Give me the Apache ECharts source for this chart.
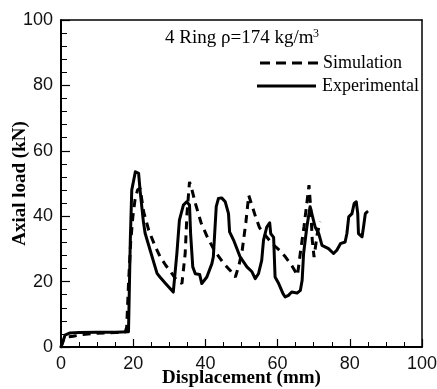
<!DOCTYPE html>
<html>
<head>
<meta charset="utf-8">
<script src="https://cdn.jsdelivr.net/npm/echarts@6/dist/echarts.min.js"></script>
<style>html,body{margin:0;padding:0;background:#fff}#c{width:437px;height:389px}</style>
</head>
<body>
<div id="c"></div>
<script>
var xTicks = [0, 20, 40, 60, 80, 100];
var yTicks = [0, 20, 40, 60, 80, 100];
var expX = [0, 0.5, 1.1, 2.5, 5, 10, 15, 18.7, 19.2, 19.6, 20.6, 21.5, 21.9, 22.8, 23.3, 24.7, 26.6, 27.4, 28.9, 31.1, 31.6, 32.1, 32.8, 33.9, 34.8, 35.6, 35.9, 36.5, 37.2, 38.4, 39.0, 39.5, 40.4, 41.8, 42.2, 43.0, 43.6, 44.5, 45.5, 46.4, 46.7, 47.8, 49.6, 51.5, 52.9, 53.8, 54.7, 55.6, 56.1, 57.0, 57.8, 58.1, 58.9, 59.3, 60.3, 61.5, 62.1, 63.0, 63.9, 65.4, 66.3, 66.8, 67.2, 68.1, 69.0, 69.5, 70.4, 71.4, 72.3, 74.1, 75.5, 76.4, 77.4, 78.7, 79.2, 79.7, 80.6, 81.2, 81.8, 82.2, 82.4, 83.4, 83.8, 84.3, 84.8];
var expY = [0, 1.5, 3.6, 4.3, 4.4, 4.5, 4.5, 4.7, 32.7, 48, 53.6, 53.1, 48, 38.5, 34.8, 29.6, 22.5, 21.4, 19.5, 16.8, 16.5, 28.6, 38.8, 43.4, 44.4, 43.4, 34.7, 24.5, 22.4, 22.2, 19.4, 19.2, 21.4, 25.5, 27.6, 42.9, 45.4, 45.6, 44.4, 40.8, 35.2, 32.7, 27.6, 24.5, 23.0, 20.9, 22.4, 26.5, 32.7, 36.7, 38.0, 34.7, 33.5, 21.4, 19.4, 16.3, 15.3, 15.8, 16.8, 16.5, 17.3, 20.4, 28.6, 36.7, 42.9, 42.3, 36.7, 34.7, 31.1, 30.1, 28.6, 29.6, 31.6, 32.1, 34.7, 39.8, 40.8, 43.9, 44.4, 40.8, 34.7, 33.7, 36.7, 40.8, 41.3];
var simX = [0, 0.6, 1.6, 3.4, 6, 10, 15, 17.8, 18.2, 18.7, 19.3, 19.9, 20.5, 21.2, 21.9, 22.9, 24.3, 26, 27.5, 29, 30.7, 32, 33.5, 34.4, 34.9, 35.6, 36.3, 37.2, 38.8, 40.5, 42.5, 45.1, 46.8, 48.3, 49.3, 50.2, 51.2, 52, 52.5, 53.9, 55, 56.2, 58.5, 60.5, 62.2, 64, 65.5, 66.4, 67.3, 68.1, 68.7, 69.2, 69.6, 70.1, 71, 71.8];
var simY = [0, 2, 3.1, 3.3, 3.8, 4.2, 4.4, 4.6, 6.1, 19.4, 32, 39.8, 45, 48, 48.6, 41.3, 35.7, 31, 27.5, 25, 22.5, 20.5, 19.4, 28.6, 40.8, 50.5, 48, 44, 38, 33.7, 29.5, 25.5, 23.5, 21.4, 25, 29.6, 38, 46.4, 47, 39.8, 36.5, 34.7, 31.6, 29.6, 27.5, 24.8, 21.9, 29.6, 36.7, 44, 49.5, 41.9, 32.7, 27.5, 34.7, 38.3];
var seriesNames = ['Simulation', 'Experimental'];
var xTitle = 'Displacement (mm)';
var yTitle = 'Axial load (kN)';
var annotation = '4 Ring \u03c1=174 kg/m';
var annotationSup = '3';

function zip(a, b) { return a.map(function (v, i) { return [v, b[i]]; }); }

var chart = echarts.init(document.getElementById('c'), null, { renderer: 'canvas' });
var serif = '"Liberation Serif", "Times New Roman", serif';
var sans = '"Liberation Sans", Arial, sans-serif';
var frameAxis = {
  type: 'value', min: 0, max: 100, interval: 20,
  axisLine: { show: true, onZero: false, lineStyle: { color: '#000', width: 1.5 } },
  axisTick: { show: false }, axisLabel: { show: false }, splitLine: { show: false }
};
chart.setOption({
  animation: false,
  backgroundColor: '#fff',
  grid: { left: 61, right: 15, top: 20, bottom: 42, containLabel: false, outerBoundsMode: 'none' },
  xAxis: [{
    type: 'value', min: xTicks[0], max: xTicks[xTicks.length - 1], interval: 20, position: 'bottom',
    name: xTitle, nameLocation: 'middle', nameGap: 22, nameMoveOverlap: false,
    nameTextStyle: { fontFamily: serif, fontWeight: 'bold', fontSize: 19, color: '#000' },
    axisLine: { show: true, onZero: false, lineStyle: { color: '#000', width: 2 } },
    axisTick: { show: true, inside: true, length: 8, lineStyle: { color: '#000', width: 1.2 } },
    minorTick: { show: true, splitNumber: 4, length: 5, lineStyle: { color: '#000', width: 1 } },
    splitLine: { show: false },
    axisLabel: { fontFamily: sans, fontSize: 18, color: '#111', margin: 8, showMaxLabel: true, showMinLabel: true }
  }, Object.assign({ position: 'top' }, frameAxis)],
  yAxis: [{
    type: 'value', min: yTicks[0], max: yTicks[yTicks.length - 1], interval: 20, position: 'left',
    name: yTitle, nameLocation: 'middle', nameGap: 31, nameRotate: 90, nameMoveOverlap: false,
    nameTextStyle: { fontFamily: serif, fontWeight: 'bold', fontSize: 19, color: '#000' },
    axisLine: { show: true, onZero: false, lineStyle: { color: '#000', width: 2 } },
    axisTick: { show: true, inside: true, length: 9, lineStyle: { color: '#000', width: 1.2 } },
    minorTick: { show: true, splitNumber: 5, length: 6, lineStyle: { color: '#000', width: 1 } },
    splitLine: { show: false },
    axisLabel: { fontFamily: sans, fontSize: 18, color: '#111', margin: 8, showMaxLabel: true, showMinLabel: true }
  }, Object.assign({ position: 'right' }, frameAxis)],
  series: [
    { name: seriesNames[0], type: 'line', data: zip(simX, simY), showSymbol: false, symbol: 'none',
      lineStyle: { color: '#000', width: 3, type: [8, 6] }, z: 3 },
    { name: seriesNames[1], type: 'line', data: zip(expX, expY), showSymbol: false, symbol: 'none',
      lineStyle: { color: '#000', width: 3, type: 'solid', join: 'round', cap: 'round' }, z: 4 }
  ],
  graphic: [
    { type: 'text', left: 165, top: 29, style: { text: annotation, font: '19px ' + serif, fill: '#000' } },
    { type: 'text', left: 313, top: 28, style: { text: annotationSup, font: '12px ' + serif, fill: '#000' } },
    { type: 'line', shape: { x1: 260, y1: 63, x2: 322, y2: 63 }, style: { stroke: '#000', lineWidth: 3, lineDash: [10, 6] } },
    { type: 'text', left: 323, top: 54, style: { text: seriesNames[0], font: '18px ' + serif, fill: '#000' } },
    { type: 'line', shape: { x1: 257, y1: 86, x2: 316, y2: 86 }, style: { stroke: '#000', lineWidth: 3 } },
    { type: 'text', left: 322, top: 77, style: { text: seriesNames[1], font: '18px ' + serif, fill: '#000' } }
  ]
});
</script>
</body>
</html>
